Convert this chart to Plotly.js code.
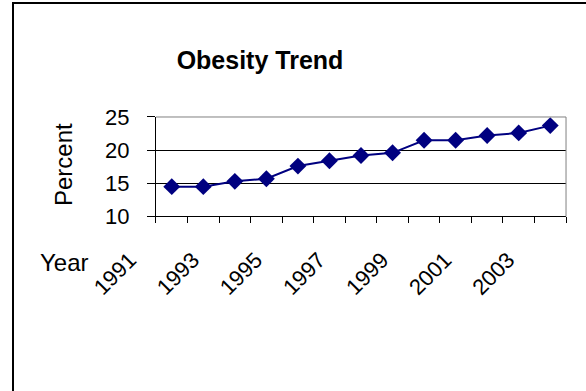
<!DOCTYPE html>
<html>
<head>
<meta charset="utf-8">
<script src="https://cdn.plot.ly/plotly-3.0.1.min.js"></script>
<style>
  html, body { margin: 0; padding: 0; background: #ffffff; }
  #chart { width: 586px; height: 391px; }
</style>
</head>
<body>
<div id="chart"></div>
<script>
// Obesity prevalence by year (percent of adults)
const years = [1991, 1992, 1993, 1994, 1995, 1996, 1997,
               1998, 1999, 2000, 2001, 2002, 2003];
const percent = [14.5, 14.5, 15.3, 15.7, 17.6, 18.4, 19.2,
                 19.6, 21.5, 21.5, 22.2, 22.6, 23.7];
// every other year carries a label
const labelYears = [1991, 1993, 1995, 1997, 1999, 2001, 2003];

const FONT = 'Liberation Sans, Arial, sans-serif';

// tick marks fall on the boundaries between years
const boundaries = years.map(y => y - 0.5).concat([years[years.length - 1] + 0.5]);

const trace = {
  type: 'scatter',
  mode: 'lines+markers',
  x: years,
  y: percent,
  line: { color: '#000080', width: 2 },
  marker: { symbol: 'diamond', size: 13, color: '#000080' },
  hoverinfo: 'x+y'
};

const layout = {
  width: 586,
  height: 391,
  margin: { l: 0, r: 0, t: 0, b: 0 },
  paper_bgcolor: '#ffffff',
  plot_bgcolor: '#ffffff',
  showlegend: false,
  title: {
    text: '<b>Obesity Trend</b>',
    font: { family: FONT, size: 25, color: '#000000' },
    x: 0.4437, xref: 'paper', xanchor: 'center',
    y: 0.847, yref: 'paper', yanchor: 'middle'
  },
  xaxis: {
    type: 'linear',
    domain: [0.2662, 0.9659],
    automargin: false,
    range: [boundaries[0], boundaries[boundaries.length - 1]],
    tickmode: 'array',
    tickvals: labelYears,
    ticktext: labelYears.map(String),
    ticks: '',
    tickangle: -45,
    ticklabelstandoff: 21,
    ticklabelshift: -42,
    tickfont: { family: FONT, size: 22, color: '#000000' },
    minor: {
      tickmode: 'array',
      tickvals: boundaries,
      ticks: 'outside',
      ticklen: 6,
      tickwidth: 1,
      tickcolor: '#000000',
      showgrid: false
    },
    showline: true,
    linecolor: '#000000',
    linewidth: 1,
    showgrid: false,
    zeroline: false,
    fixedrange: true
  },
  yaxis: {
    domain: [0.4463, 0.7008],
    automargin: false,
    range: [10, 25],
    tickmode: 'linear',
    tick0: 10,
    dtick: 5,
    ticks: 'outside',
    ticklen: 8,
    tickwidth: 1,
    tickcolor: '#000000',
    ticklabelstandoff: 13,
    tickfont: { family: FONT, size: 22, color: '#000000' },
    showline: true,
    linecolor: '#000000',
    linewidth: 1,
    showgrid: true,
    gridcolor: '#000000',
    gridwidth: 1,
    zeroline: false,
    fixedrange: true
  },
  annotations: [
    {
      text: 'Percent', textangle: -90,
      x: 63 / 586, y: 1 - 165 / 391, xref: 'paper', yref: 'paper',
      xanchor: 'center', yanchor: 'middle', showarrow: false,
      font: { family: FONT, size: 24, color: '#000000' }
    },
    {
      text: 'Year',
      x: 64 / 586, y: 1 - 262 / 391, xref: 'paper', yref: 'paper',
      xanchor: 'center', yanchor: 'middle', showarrow: false,
      font: { family: FONT, size: 24, color: '#000000' }
    }
  ],
  shapes: [
    // outer chart border (left and top visible)
    {
      type: 'rect', xref: 'paper', yref: 'paper',
      x0: 13 / 586, x1: 1.02, y0: -0.02, y1: 1 - 3 / 391,
      line: { color: '#000000', width: 2 }, fillcolor: 'rgba(0,0,0,0)',
      layer: 'below'
    },
    // grey frame on the top and right of the plot area
    {
      type: 'line', xref: 'x domain', yref: 'y domain',
      x0: 0, x1: 1, y0: 1, y1: 1,
      line: { color: '#808080', width: 1 }, layer: 'above'
    },
    {
      type: 'line', xref: 'x domain', yref: 'y domain',
      x0: 1, x1: 1, y0: 0, y1: 1,
      line: { color: '#808080', width: 1 }, layer: 'above'
    }
  ]
};

Plotly.newPlot('chart', [trace], layout, { displayModeBar: false, staticPlot: true });
</script>
</body>
</html>
